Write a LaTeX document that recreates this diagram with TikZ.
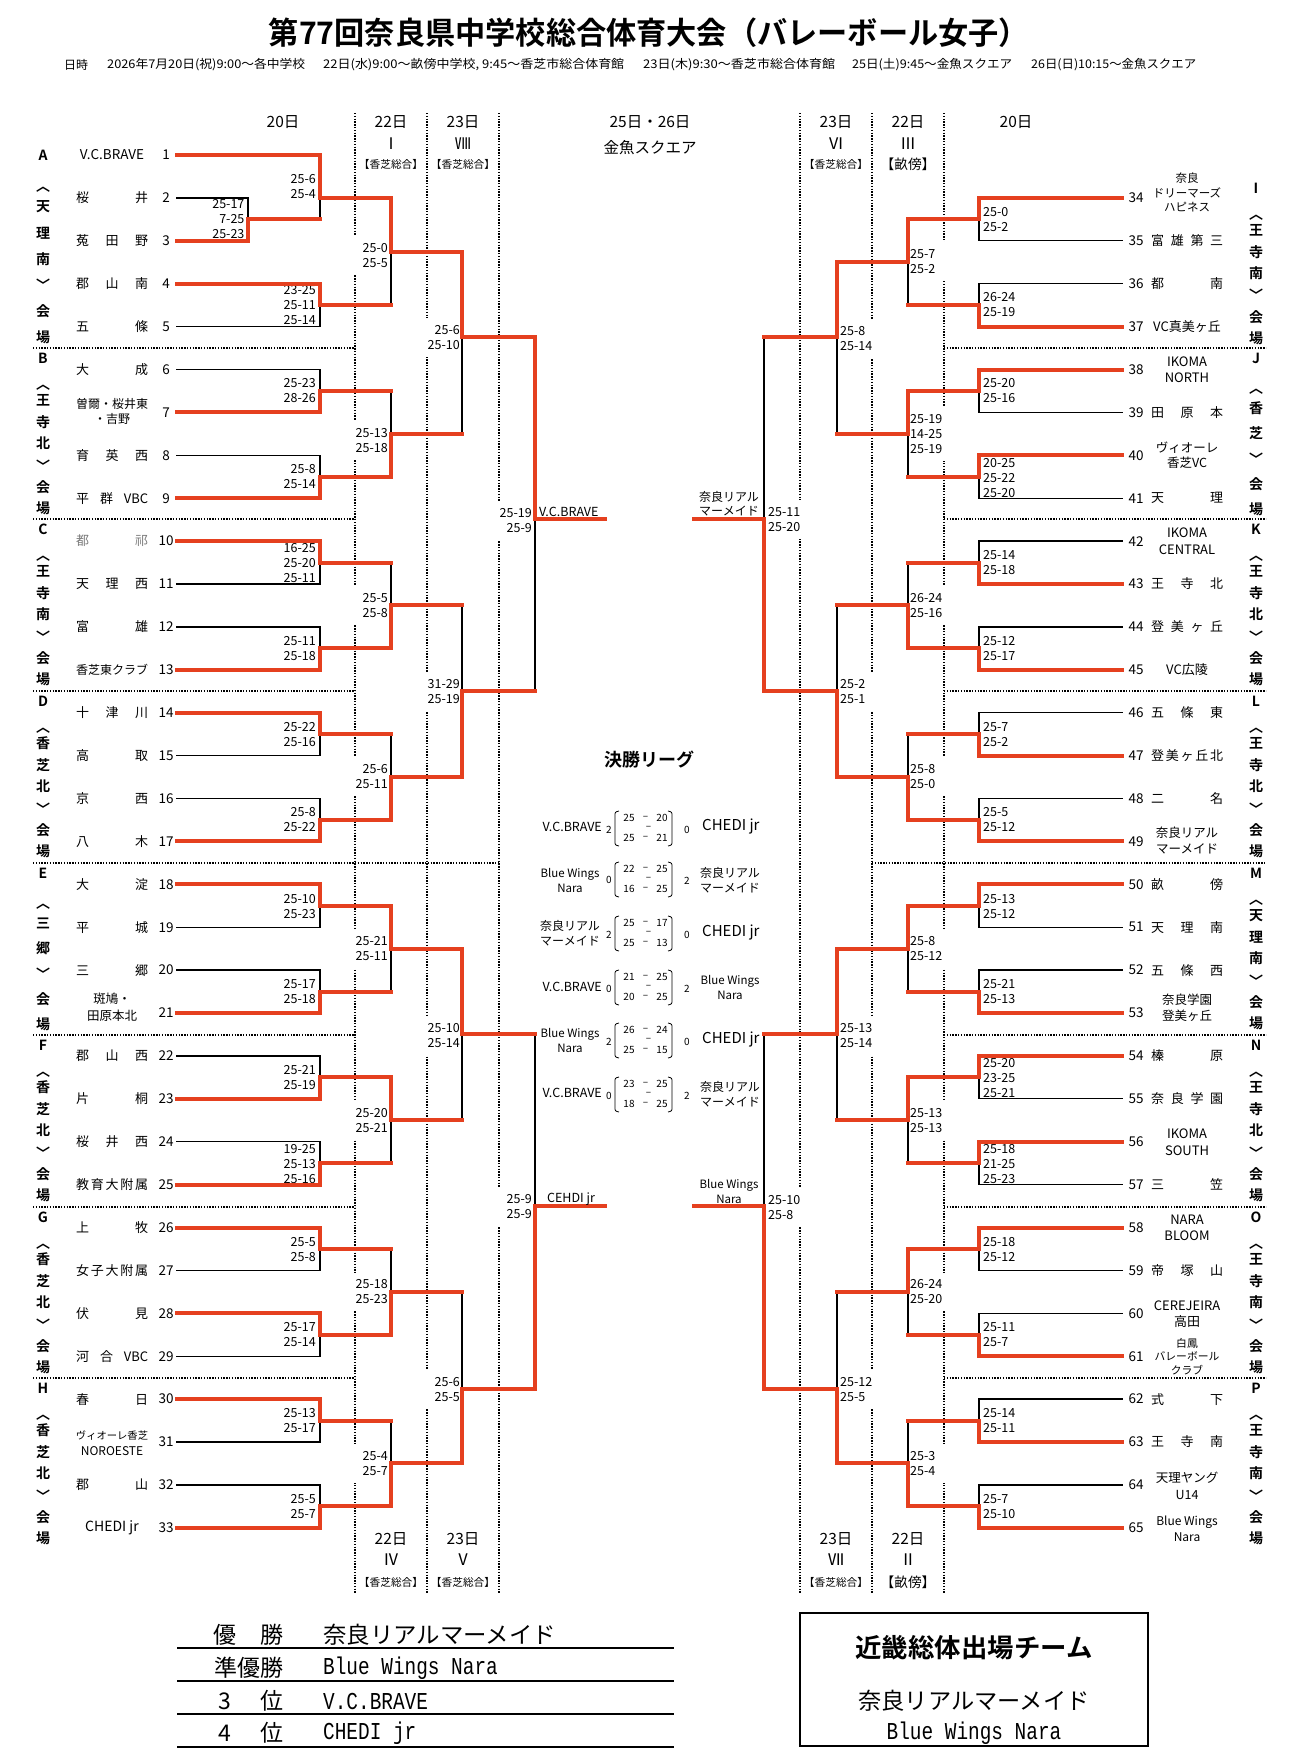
\documentclass[tikz,border=0pt]{standalone}
\usepackage{fontspec}
\setmainfont{Noto Sans CJK JP}[BoldFont={Noto Sans CJK JP Bold}]
\newfontfamily\monof{Liberation Mono}
\hyphenpenalty=10000
\exhyphenpenalty=10000
\definecolor{bred}{HTML}{E5401F}
\definecolor{gtx}{HTML}{7A7A7A}
\newcommand\fsz[2]{\fontsize{#1pt}{#2pt}\selectfont}
\newif\ifredpass
\newcommand\mT[5]{\ifredpass\draw[rd] (#1,#2)--(#1,#4)--(#5,#4);\else\draw[blk] (#1,#3)--(#1,#4);\fi}
\newcommand\mB[5]{\ifredpass\draw[rd] (#1,#3)--(#1,#4)--(#5,#4);\else\draw[blk] (#1,#2)--(#1,#4);\fi}
\newcommand\vbC[6]{\node[blt] at (#1,#2+10.5) {#3};
  \node[bjp] at (#1,#2+40) {︿};
  \foreach \ch [count=\k from 1] in {#4,#5,#6,﹀,会,場} {\node[bjp] at (#1,#2+30.5+\k*21.7) {\ch};}}
\newcommand\vbB[5]{\node[blt] at (#1,#2+10.5) {#3};
  \node[bjp] at (#1,#2+44) {︿};
  \foreach \ch [count=\k from 1] in {#4,#5,﹀,会,場} {\node[bjp] at (#1,#2+34.7+\k*25.3) {\ch};}}
\newcommand\nmL[2]{\node[tn,anchor=west] at (76,{155+(#1-1)*42.9}) {\makebox[72pt][s]{#2}};}
\newcommand\nmR[2]{\node[tn,anchor=west] at (1151,{155+(#1-33)*42.9}) {\makebox[72pt][s]{#2}};}
\newcommand\lgsc[5]{%
  \node[lsc] at (629,#1-10) {#2}; \node[lsc] at (645.5,#1-10) {–}; \node[lsc] at (662,#1-10) {#3};
  \node[lsc] at (648.5,#1) {–};
  \node[lsc] at (629,#1+10) {#4}; \node[lsc] at (645.5,#1+10) {–}; \node[lsc] at (662,#1+10) {#5};
  \draw[brk] (619,#1-17) .. controls (615,#1-16) .. (615,#1-12) -- (615,#1+13) .. controls (615,#1+17) .. (619,#1+18);
  \draw[brk] (668,#1-17) .. controls (672,#1-16) .. (672,#1-12) -- (672,#1+13) .. controls (672,#1+17) .. (668,#1+18);}
\def\allmatches{%
\mB{248}{197.9}{240.8}{219.35}{320}
\mT{320}{155}{219.35}{197.9}{391}
\mT{320}{283.7}{326.6}{305.15}{391}
\mB{320}{369.5}{412.4}{390.95}{391}
\mB{320}{455.3}{498.2}{476.75}{391}
\mT{320}{541.1}{584}{562.55}{391}
\mB{320}{626.9}{669.8}{648.35}{391}
\mT{320}{712.7}{755.6}{734.15}{391}
\mB{320}{798.5}{841.4}{819.95}{391}
\mT{320}{884.3}{927.2}{905.75}{391}
\mB{320}{970.1}{1013}{991.55}{391}
\mB{320}{1055.9}{1098.8}{1077.35}{391}
\mB{320}{1141.7}{1184.6}{1163.15}{391}
\mT{320}{1227.5}{1270.4}{1248.95}{391}
\mT{320}{1313.3}{1356.2}{1334.75}{391}
\mT{320}{1399.1}{1442}{1420.55}{391}
\mB{320}{1484.9}{1527.8}{1506.35}{391}
\mT{391}{197.9}{305.15}{251.5}{462}
\mB{391}{390.95}{476.75}{433.85}{462}
\mB{391}{562.55}{648.35}{605.45}{462}
\mB{391}{734.15}{819.95}{777.05}{462}
\mT{391}{905.75}{991.55}{948.65}{462}
\mT{391}{1077.35}{1163.15}{1120.25}{462}
\mB{391}{1248.95}{1334.75}{1291.85}{462}
\mB{391}{1420.55}{1506.35}{1463.45}{462}
\mT{462}{251.5}{433.85}{337}{535}
\mB{462}{605.45}{777.05}{691.25}{535}
\mT{462}{948.65}{1120.25}{1034.45}{535}
\mB{462}{1291.85}{1463.45}{1389}{535}
\mT{535}{337}{691.25}{519}{605}
\mB{535}{1034.45}{1389}{1206}{605}
\mT{979}{197.9}{240.8}{219.35}{908}
\mB{979}{283.7}{326.6}{305.15}{908}
\mT{979}{369.5}{412.4}{390.95}{908}
\mT{979}{455.3}{498.2}{476.75}{908}
\mB{979}{541.1}{584}{562.55}{908}
\mB{979}{626.9}{669.8}{648.35}{908}
\mB{979}{712.7}{755.6}{734.15}{908}
\mB{979}{798.5}{841.4}{819.95}{908}
\mT{979}{884.3}{927.2}{905.75}{908}
\mB{979}{970.1}{1013}{991.55}{908}
\mT{979}{1055.9}{1098.8}{1077.35}{908}
\mT{979}{1141.7}{1184.6}{1163.15}{908}
\mT{979}{1227.5}{1270.4}{1248.95}{908}
\mB{979}{1313.3}{1356.2}{1334.75}{908}
\mB{979}{1399.1}{1442}{1420.55}{908}
\mB{979}{1484.9}{1527.8}{1506.35}{908}
\mT{908}{219.35}{305.15}{262.25}{837}
\mT{908}{390.95}{476.75}{433.85}{837}
\mB{908}{562.55}{648.35}{605.45}{837}
\mB{908}{734.15}{819.95}{777.05}{837}
\mT{908}{905.75}{991.55}{948.65}{837}
\mT{908}{1077.35}{1163.15}{1120.25}{837}
\mT{908}{1248.95}{1334.75}{1291.85}{837}
\mB{908}{1420.55}{1506.35}{1463.45}{837}
\mT{837}{262.25}{433.85}{337}{764}
\mB{837}{605.45}{777.05}{691.25}{764}
\mT{837}{948.65}{1120.25}{1034.45}{764}
\mB{837}{1291.85}{1463.45}{1389}{764}
\mB{764}{337}{691.25}{519}{694}
\mB{764}{1034.45}{1389}{1206}{694}
}
\begin{document}
\begin{tikzpicture}[x=1pt,y=-1pt,
  blk/.style={line width=1.3pt,black,line cap=rect},
  rd/.style={line width=4pt,bred,line cap=rect},
  dotl/.style={line width=1.1pt,dash pattern=on 1.4pt off 1.4pt},
  scl/.style={anchor=east,align=right,text width=35pt,inner xsep=1pt,inner ysep=7pt,font=\fsz{12.5}{15}},
  scr/.style={anchor=west,align=left,text width=35pt,inner xsep=1pt,inner ysep=7pt,font=\fsz{12.5}{15}},
  wf/.style={fill=white},
  tn/.style={font=\fsz{13}{15},inner sep=0pt},
  tnm/.style={align=center,inner sep=0pt},
  num/.style={font=\fsz{13.5}{15},inner sep=0pt},
  blt/.style={font=\bfseries\fsz{14}{16},inner sep=0pt},
  bjp/.style={font=\bfseries\fsz{14}{16},inner sep=0pt},
  hd/.style={font=\fsz{15.5}{17},inner sep=0pt},
  rn/.style={font=\fsz{16}{17},inner sep=0pt},
  hs/.style={font=\fsz{10.7}{12},inner sep=0pt},
  hb/.style={font=\fsz{13.7}{15},inner sep=0pt},
  lsc/.style={font=\fsz{10}{11},inner sep=0pt},
  lnm/.style={font=\fsz{12}{15},align=center,inner sep=0pt},
  brk/.style={line width=0.8pt},
  rt/.style={font=\fsz{23}{25},inner sep=0pt},
  tbl/.style={line width=1.7pt}]
\useasboundingbox (0,0) rectangle (1293,1756);
% title
\node[font=\bfseries\fsz{31}{34},inner sep=0pt] (title) at (649,33) {\resizebox{760pt}{\height}{第77回奈良県中学校総合体育大会（バレーボール女子）}};
\begin{scope}[every node/.style={font=\fsz{12}{14},inner sep=0pt,anchor=west}]
\node (s1) at (64,65) {\resizebox{24pt}{\height}{日時}};
\node (s2) at (107,65) {\resizebox{198pt}{\height}{2026年7月20日(祝)9:00～各中学校}};
\node (s3) at (323,65) {\resizebox{301pt}{\height}{22日(水)9:00～畝傍中学校, 9:45～香芝市総合体育館}};
\node (s4) at (643,65) {\resizebox{192pt}{\height}{23日(木)9:30～香芝市総合体育館}};
\node (s5) at (852,65) {\resizebox{160pt}{\height}{25日(土)9:45～金魚スクエア}};
\node (s6) at (1031,65) {\resizebox{165pt}{\height}{26日(日)10:15～金魚スクエア}};
\end{scope}
% dotted lines
\foreach \x in {355,427,499,800,872,944} \draw[dotl] (\x,113)--(\x,1593);
\foreach \y in {348,519,691,1035,1207,1378} {\draw[dotl] (33,\y)--(355,\y); \draw[dotl] (944,\y)--(1266,\y);}
\draw[dotl] (33,863)--(499,863);
\draw[dotl] (872,863)--(1266,863);
% headers
\node[hd] at (283,122) {20日};
\node[hd] at (391,122) {22日}; \node[rn] at (391,144) {Ⅰ}; \node[hs] at (391,164) {【香芝総合】};
\node[hd] at (463,122) {23日}; \node[rn] at (463,144) {Ⅷ}; \node[hs] at (463,164) {【香芝総合】};
\node[hd] at (650,122) {25日・26日}; \node[hd] at (650,148) {金魚スクエア};
\node[hd] at (836,122) {23日}; \node[rn] at (836,144) {Ⅵ}; \node[hs] at (836,164) {【香芝総合】};
\node[hd] at (908,122) {22日}; \node[rn] at (908,144) {Ⅲ}; \node[hb] at (908,164) {【畝傍】};
\node[hd] at (1016,122) {20日};
\node[hd] at (391,1539) {22日}; \node[rn] at (391,1560) {Ⅳ}; \node[hs] at (391,1582) {【香芝総合】};
\node[hd] at (463,1539) {23日}; \node[rn] at (463,1560) {Ⅴ}; \node[hs] at (463,1582) {【香芝総合】};
\node[hd] at (836,1539) {23日}; \node[rn] at (836,1560) {Ⅶ}; \node[hs] at (836,1582) {【香芝総合】};
\node[hd] at (908,1539) {22日}; \node[rn] at (908,1560) {Ⅱ}; \node[hb] at (908,1582) {【畝傍】};
% score labels left
\node[scl] at (245.6,219.5) {25-17\\7-25\\25-23};
\node[scl] at (317,187) {25-6\\25-4};
\node[scl] at (317,305) {23-25\\25-11\\25-14};
\node[scl] at (317,391) {25-23\\28-26};
\node[scl] at (317,476.5) {25-8\\25-14};
\node[scl] at (317,563) {16-25\\25-20\\25-11};
\node[scl] at (317,648.5) {25-11\\25-18};
\node[scl] at (317,734.5) {25-22\\25-16};
\node[scl] at (317,819.5) {25-8\\25-22};
\node[scl] at (317,906.5) {25-10\\25-23};
\node[scl] at (317,991.5) {25-17\\25-18};
\node[scl] at (317,1077.5) {25-21\\25-19};
\node[scl] at (317,1164) {19-25\\25-13\\25-16};
\node[scl] at (317,1249.5) {25-5\\25-8};
\node[scl] at (317,1334.5) {25-17\\25-14};
\node[scl] at (317,1420.5) {25-13\\25-17};
\node[scl] at (317,1506.5) {25-5\\25-7};
\node[scl,wf] at (389,255.5) {25-0\\25-5};
\node[scl,wf] at (389,440.5) {25-13\\25-18};
\node[scl,wf] at (389,605.5) {25-5\\25-8};
\node[scl,wf] at (389,776.5) {25-6\\25-11};
\node[scl,wf] at (389,948.5) {25-21\\25-11};
\node[scl,wf] at (389,1120.5) {25-20\\25-21};
\node[scl,wf] at (389,1292) {25-18\\25-23};
\node[scl,wf] at (389,1463.5) {25-4\\25-7};
\node[scl,wf] at (461,337.5) {25-6\\25-10};
\node[scl,wf] at (461,691.5) {31-29\\25-19};
\node[scl,wf] at (461,1035.5) {25-10\\25-14};
\node[scl,wf] at (461,1389.5) {25-6\\25-5};
\node[scl,wf] at (533,520.5) {25-19\\25-9};
\node[scl,wf] at (533,1206.5) {25-9\\25-9};
% score labels right
\node[scr] at (982,220) {25-0\\25-2};
\node[scr] at (982,304.5) {26-24\\25-19};
\node[scr] at (982,391) {25-20\\25-16};
\node[scr] at (982,478) {20-25\\25-22\\25-20};
\node[scr] at (982,562.5) {25-14\\25-18};
\node[scr] at (982,648.5) {25-12\\25-17};
\node[scr] at (982,734.5) {25-7\\25-2};
\node[scr] at (982,819.5) {25-5\\25-12};
\node[scr] at (982,906.5) {25-13\\25-12};
\node[scr] at (982,991.5) {25-21\\25-13};
\node[scr] at (982,1078.5) {25-20\\23-25\\25-21};
\node[scr] at (982,1164.5) {25-18\\21-25\\25-23};
\node[scr] at (982,1249.5) {25-18\\25-12};
\node[scr] at (982,1334.5) {25-11\\25-7};
\node[scr] at (982,1420.5) {25-14\\25-11};
\node[scr] at (982,1506.5) {25-7\\25-10};
\node[scr,wf] at (909,261.5) {25-7\\25-2};
\node[scr,wf] at (909,434) {25-19\\14-25\\25-19};
\node[scr,wf] at (909,605.5) {26-24\\25-16};
\node[scr,wf] at (909,776.5) {25-8\\25-0};
\node[scr,wf] at (909,949) {25-8\\25-12};
\node[scr,wf] at (909,1120.5) {25-13\\25-13};
\node[scr,wf] at (909,1292) {26-24\\25-20};
\node[scr,wf] at (909,1463.5) {25-3\\25-4};
\node[scr,wf] at (839,338.5) {25-8\\25-14};
\node[scr,wf] at (839,691.5) {25-2\\25-1};
\node[scr,wf] at (839,1035.5) {25-13\\25-14};
\node[scr,wf] at (839,1389.5) {25-12\\25-5};
\node[scr,wf] at (767,519.5) {25-11\\25-20};
\node[scr,wf] at (767,1207.5) {25-10\\25-8};
% black team lines
\draw[blk] (177,197.9)--(248,197.9);
\foreach \i in {5,6,8,11,12,15,16,19,20,22,24,27,29,31,32} \draw[blk] (177,{155+(\i-1)*42.9})--(320,{155+(\i-1)*42.9});
\foreach \j in {35,36,39,41,42,44,46,48,51,52,55,57,59,60,62,64} \draw[blk] (979,{155+(\j-33)*42.9})--(1122,{155+(\j-33)*42.9});
\redpassfalse\allmatches
% red team lines
\draw[rd] (177,240.8)--(248,240.8);
\foreach \i in {1,4,7,9,10,13,14,17,18,21,23,25,26,28,30,33} \draw[rd] (177,{155+(\i-1)*42.9})--(320,{155+(\i-1)*42.9});
\foreach \j in {34,37,38,40,43,45,47,49,50,53,54,56,58,61,63,65} \draw[rd] (979,{155+(\j-33)*42.9})--(1122,{155+(\j-33)*42.9});
\redpasstrue\allmatches
% numbers
\foreach \i in {1,...,33} \node[num] at (166,{155+(\i-1)*42.9}) {\i};
\foreach \j in {34,...,65} \node[num] at (1136,{155+(\j-33)*42.9}) {\j};
% left names
\node[tn,font=\fsz{13.5}{15}] at (112,155) {V.C.BRAVE};
\nmL{2}{桜\hfill 井}
\nmL{3}{菟\hfill 田\hfill 野}
\nmL{4}{郡\hfill 山\hfill 南}
\nmL{5}{五\hfill 條}
\nmL{6}{大\hfill 成}
\node[tnm,font=\fsz{12}{15}] at (112,411.5) {曽爾・桜井東\\・吉野};
\nmL{8}{育\hfill 英\hfill 西}
\nmL{9}{平\hfill 群\hfill VBC}
\node[tn,anchor=west,text=gtx] at (76,541.1) {\makebox[72pt][s]{都\hfill 祁}};
\nmL{11}{天\hfill 理\hfill 西}
\nmL{12}{富\hfill 雄}
\node[tn,font=\fsz{12}{15}] at (112,669.8) {香芝東クラブ};
\nmL{14}{十\hfill 津\hfill 川}
\nmL{15}{高\hfill 取}
\nmL{16}{京\hfill 西}
\nmL{17}{八\hfill 木}
\nmL{18}{大\hfill 淀}
\nmL{19}{平\hfill 城}
\nmL{20}{三\hfill 郷}
\node[tnm,font=\fsz{12.5}{17}] at (112,1007.5) {斑鳩・\\田原本北};
\nmL{22}{郡\hfill 山\hfill 西}
\nmL{23}{片\hfill 桐}
\nmL{24}{桜\hfill 井\hfill 西}
\nmL{25}{教\hfill 育\hfill 大\hfill 附\hfill 属}
\nmL{26}{上\hfill 牧}
\nmL{27}{女\hfill 子\hfill 大\hfill 附\hfill 属}
\nmL{28}{伏\hfill 見}
\nmL{29}{河\hfill 合\hfill VBC}
\nmL{30}{春\hfill 日}
\node[tnm,font=\fsz{10.3}{16}] at (112,1443) {ヴィオーレ香芝\\\fsz{12}{16}NOROESTE};
\nmL{32}{郡\hfill 山}
\node[tn,font=\fsz{14}{15}] at (112,1527.8) {CHEDI jr};
% right names
\node[tnm,font=\fsz{11.5}{14.5}] at (1187,192.5) {奈良\\ドリーマーズ\\ハピネス};
\nmR{35}{富\hfill 雄\hfill 第\hfill 三}
\nmR{36}{都\hfill 南}
\node[tn] at (1187,326.6) {VC真美ヶ丘};
\node[tnm,font=\fsz{13}{16}] at (1187,370) {IKOMA\\NORTH};
\nmR{39}{田\hfill 原\hfill 本}
\node[tnm,font=\fsz{12.5}{15}] at (1187,455.5) {ヴィオーレ\\香芝VC};
\nmR{41}{天\hfill 理}
\node[tnm,font=\fsz{13}{17}] at (1187,541.5) {IKOMA\\CENTRAL};
\nmR{43}{王\hfill 寺\hfill 北}
\nmR{44}{登\hfill 美\hfill ヶ\hfill 丘}
\node[tn] at (1187,669.8) {VC広陵};
\nmR{46}{五\hfill 條\hfill 東}
\nmR{47}{登\hfill 美\hfill ヶ\hfill 丘\hfill 北}
\nmR{48}{二\hfill 名}
\node[tnm,font=\fsz{12.5}{16}] at (1187,841) {奈良リアル\\マーメイド};
\nmR{50}{畝\hfill 傍}
\nmR{51}{天\hfill 理\hfill 南}
\nmR{52}{五\hfill 條\hfill 西}
\node[tnm,font=\fsz{12.5}{16}] at (1187,1008) {奈良学園\\登美ヶ丘};
\nmR{54}{榛\hfill 原}
\nmR{55}{奈\hfill 良\hfill 学\hfill 園}
\node[tnm,font=\fsz{13}{17}] at (1187,1142.5) {IKOMA\\SOUTH};
\nmR{57}{三\hfill 笠}
\node[tnm,font=\fsz{13}{16}] at (1187,1228) {NARA\\BLOOM};
\nmR{59}{帝\hfill 塚\hfill 山}
\node[tnm,font=\fsz{13}{16}] at (1187,1314) {CEREJEIRA\\高田};
\node[tnm,font=\fsz{10.8}{13.5}] at (1187,1356.5) {白鳳\\バレーボール\\クラブ};
\nmR{62}{式\hfill 下}
\nmR{63}{王\hfill 寺\hfill 南}
\node[tnm,font=\fsz{12.5}{17}] at (1187,1485.5) {天理ヤング\\U14};
\node[tnm,font=\fsz{12}{16}] at (1187,1529) {Blue Wings\\Nara};
% block labels
\node[blt] at (43,155) {A};
\node[bjp] at (43,190) {︿};
\foreach \ch [count=\k from 1] in {天,理,南,﹀,会,場} {\node[bjp] at (43,181+\k*26) {\ch};}
\vbC{43}{348}{B}{王}{寺}{北}
\vbC{43}{519}{C}{王}{寺}{南}
\vbC{43}{691}{D}{香}{芝}{北}
\vbB{43}{863}{E}{三}{郷}
\vbC{43}{1035}{F}{香}{芝}{北}
\vbC{43}{1207}{G}{香}{芝}{北}
\vbC{43}{1378}{H}{香}{芝}{北}
\vbC{1256}{177.9}{I}{王}{寺}{南}
\vbB{1256}{348}{J}{香}{芝}
\vbC{1256}{519}{K}{王}{寺}{北}
\vbC{1256}{691}{L}{王}{寺}{北}
\vbC{1256}{863}{M}{天}{理}{南}
\vbC{1256}{1035}{N}{王}{寺}{北}
\vbC{1256}{1207}{O}{王}{寺}{南}
\vbC{1256}{1378}{P}{王}{寺}{南}
% finalists
\node[font=\fsz{12.5}{14},anchor=west,inner sep=0pt] at (539,512) {V.C.BRAVE};
\node[font=\fsz{12.5}{14},inner sep=0pt] at (571,1199) {CEHDI jr};
\node[font=\fsz{12}{14},align=center,inner sep=0pt] at (729,504) {奈良リアル\\マーメイド};
\node[font=\fsz{11.5}{15},align=center,inner sep=0pt] at (729,1191.5) {Blue Wings\\Nara};
% final league
\node[font=\bfseries\fsz{18}{20},inner sep=0pt] (league) at (649,760) {決勝リーグ};
\node[font=\fsz{12.5}{14},anchor=east,inner sep=0pt] at (602,827) {V.C.BRAVE};
\node[lsc] at (609,830) {2}; \lgsc{828}{25}{20}{25}{21} \node[lsc] at (687,830) {0};
\node[font=\fsz{15}{16},anchor=west,inner sep=0pt] at (702,826) {CHEDI jr};
\node[lnm,font=\fsz{11.5}{15}] at (570,880.5) {Blue Wings\\Nara};
\node[lsc] at (609,880) {0}; \lgsc{879}{22}{25}{16}{25} \node[lsc] at (687,881) {2};
\node[lnm] at (730,880.5) {奈良リアル\\マーメイド};
\node[lnm] at (570,933) {奈良リアル\\マーメイド};
\node[lsc] at (609,935) {2}; \lgsc{933}{25}{17}{25}{13} \node[lsc] at (687,935) {0};
\node[font=\fsz{15}{16},anchor=west,inner sep=0pt] at (702,932) {CHEDI jr};
\node[font=\fsz{12.5}{14},anchor=east,inner sep=0pt] at (602,987) {V.C.BRAVE};
\node[lsc] at (609,989) {0}; \lgsc{987}{21}{25}{20}{25} \node[lsc] at (687,989) {2};
\node[lnm,font=\fsz{11.5}{15}] at (730,987) {Blue Wings\\Nara};
\node[lnm,font=\fsz{11.5}{15}] at (570,1040) {Blue Wings\\Nara};
\node[lsc] at (609,1042) {2}; \lgsc{1040}{26}{24}{25}{15} \node[lsc] at (687,1042) {0};
\node[font=\fsz{15}{16},anchor=west,inner sep=0pt] at (702,1039) {CHEDI jr};
\node[font=\fsz{12.5}{14},anchor=east,inner sep=0pt] at (602,1093) {V.C.BRAVE};
\node[lsc] at (609,1096) {0}; \lgsc{1094}{23}{25}{18}{25} \node[lsc] at (687,1096) {2};
\node[lnm] at (730,1094) {奈良リアル\\マーメイド};
% results table
\foreach \y in {1648,1681,1714,1747} \draw[tbl] (177,\y)--(674,\y);
\node[rt] at (225,1635) {優}; \node[rt] at (272,1635) {勝};
\node[rt] at (249,1668) {準優勝};
\node[rt] at (225,1701) {3}; \node[rt] at (272,1701) {位};
\node[rt] at (225,1733) {4}; \node[rt] at (272,1733) {位};
\node[rt,anchor=west] at (323,1635) {\resizebox{233pt}{\height}{奈良リアルマーメイド}};
\node[inner sep=0pt,anchor=west] at (323,1668) {\monof\fsz{19.4}{22}\scalebox{1}[1.25]{Blue Wings Nara}};
\node[inner sep=0pt,anchor=west] at (323,1701) {\monof\fsz{19.4}{22}\scalebox{1}[1.25]{V.C.BRAVE}};
\node[inner sep=0pt,anchor=west] at (323,1733) {\monof\fsz{19.4}{22}\scalebox{1}[1.25]{CHEDI jr}};
% kinki box
\draw[line width=2.5pt] (800,1613) rectangle (1148,1746);
\node[font=\bfseries\fsz{26}{28},inner sep=0pt] (kbox) at (974,1648) {\resizebox{237pt}{\height}{近畿総体出場チーム}};
\node[font=\fsz{23}{25},inner sep=0pt] at (974,1701) {\resizebox{231pt}{\height}{奈良リアルマーメイド}};
\node[inner sep=0pt] at (974,1733) {\monof\fsz{19.4}{22}\scalebox{1}[1.25]{Blue Wings Nara}};
\end{tikzpicture}
\end{document}
